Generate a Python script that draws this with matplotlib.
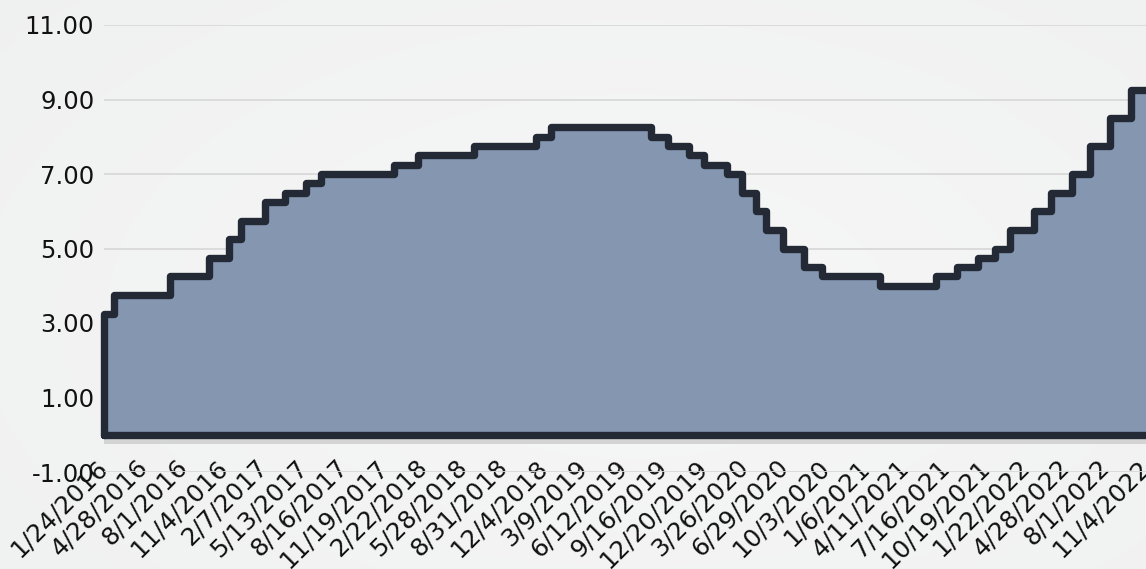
import numpy as np
import pandas as pd
import matplotlib
matplotlib.use("Agg")
import matplotlib.pyplot as plt
import matplotlib.transforms as mtransforms

# ---- data ----
change_dates = ["2016-01-24", "2016-02-17", "2016-06-30", "2016-09-29", "2016-11-17",
                "2016-12-15", "2017-02-09", "2017-03-30", "2017-05-18", "2017-06-22",
                "2017-12-14", "2018-02-08", "2018-06-21", "2018-11-15", "2018-12-20",
                "2019-08-15", "2019-09-26", "2019-11-14", "2019-12-19", "2020-02-13",
                "2020-03-20", "2020-04-21", "2020-05-14", "2020-06-25", "2020-08-13",
                "2020-09-24", "2021-02-11", "2021-06-24", "2021-08-12", "2021-09-30",
                "2021-11-11", "2021-12-16", "2022-02-10", "2022-03-24", "2022-05-12",
                "2022-06-23", "2022-08-11", "2022-09-29", "2022-11-09"]
rates = [3.25, 3.75, 4.25, 4.75, 5.25,
         5.75, 6.25, 6.50, 6.75, 7.00,
         7.25, 7.50, 7.75, 8.00, 8.25,
         8.00, 7.75, 7.50, 7.25, 7.00,
         6.50, 6.00, 5.50, 5.00, 4.50,
         4.25, 4.00, 4.25, 4.50, 4.75,
         5.00, 5.50, 6.00, 6.50, 7.00,
         7.75, 8.50, 9.25, 9.25]

tick_labels = ["1/24/2016", "4/28/2016", "8/1/2016", "11/4/2016", "2/7/2017", "5/13/2017",
               "8/16/2017", "11/19/2017", "2/22/2018", "5/28/2018", "8/31/2018", "12/4/2018",
               "3/9/2019", "6/12/2019", "9/16/2019", "12/20/2019", "3/26/2020", "6/29/2020",
               "10/3/2020", "1/6/2021", "4/11/2021", "7/16/2021", "10/19/2021", "1/22/2022",
               "4/28/2022", "8/1/2022", "11/4/2022"]
y_ticks = [-1, 1, 3, 5, 7, 9, 11]

# ---- styling ----
FILL = "#8496B0"
LINE = "#232A36"
GRID = "#D9D9D9"

W, H = 1146, 569
fig = plt.figure(figsize=(W / 100, H / 100), dpi=100)

# background radial gradient
bg = fig.add_axes([0, 0, 1, 1], zorder=-10)
yy, xx = np.mgrid[0:1:200j, 0:1:400j]
r = np.sqrt(((xx - 0.55) / 0.8) ** 2 + ((yy - 0.55) / 0.9) ** 2)
c_in = np.array([247, 247, 247]) / 255
c_out = np.array([239, 240, 240]) / 255
t = np.clip(r, 0, 1)[..., None]
img = c_in * (1 - t) + c_out * t
bg.imshow(img, aspect="auto", extent=[0, 1, 0, 1])
bg.axis("off")

left = 104 / W
bottom = 1 - 472 / H
top = 1 - 25 / H
ax = fig.add_axes([left, bottom, 1 - left, top - bottom])
ax.patch.set_alpha(0)

d = pd.to_datetime(change_dates)
v = np.array(rates)

# build closed step outline
xs = [d[0]]
ys = [0.0]
for i in range(len(d)):
    if i > 0:
        xs.append(d[i])
        ys.append(v[i - 1])
    xs.append(d[i])
    ys.append(v[i])
xs.append(d[-1])
ys.append(0.0)
xs.append(d[0])
ys.append(0.0)
xs_num = matplotlib.dates.date2num(pd.to_datetime(xs))

# shadow
shadow_tr = ax.transData + mtransforms.ScaledTranslation(0, -9 / 100, fig.dpi_scale_trans)
ax.fill(xs_num, ys, color="#D4D4D4", transform=shadow_tr, zorder=1, clip_on=False, lw=0)
ax.fill(xs_num, ys, color=FILL, zorder=2, clip_on=False, lw=0)
ax.plot(xs_num, ys, color=LINE, lw=5.3, solid_joinstyle="round", solid_capstyle="round",
        zorder=3, clip_on=False)

tick_dates = matplotlib.dates.date2num(pd.to_datetime(tick_labels, format="%m/%d/%Y"))
ax.set_xticks(tick_dates)
ax.set_xticklabels(tick_labels, rotation=45, ha="right", va="center",
                   rotation_mode="anchor", fontsize=17.7, color="#111111")
ax.set_xlim(tick_dates[0], tick_dates[-1])
ax.set_ylim(-1, 11)
ax.set_yticks(y_ticks)
ax.set_yticklabels([f"{y:.2f}" for y in y_ticks], fontsize=17.5, color="#111111")
ax.tick_params(axis="both", length=0)
ax.tick_params(axis="y", pad=7)
ax.tick_params(axis="x", pad=-6)
for s in ax.spines.values():
    s.set_visible(False)
ax.grid(axis="y", color=GRID, lw=1.3, zorder=0)
ax.set_axisbelow(True)

fig.savefig("out.png", dpi=100)
